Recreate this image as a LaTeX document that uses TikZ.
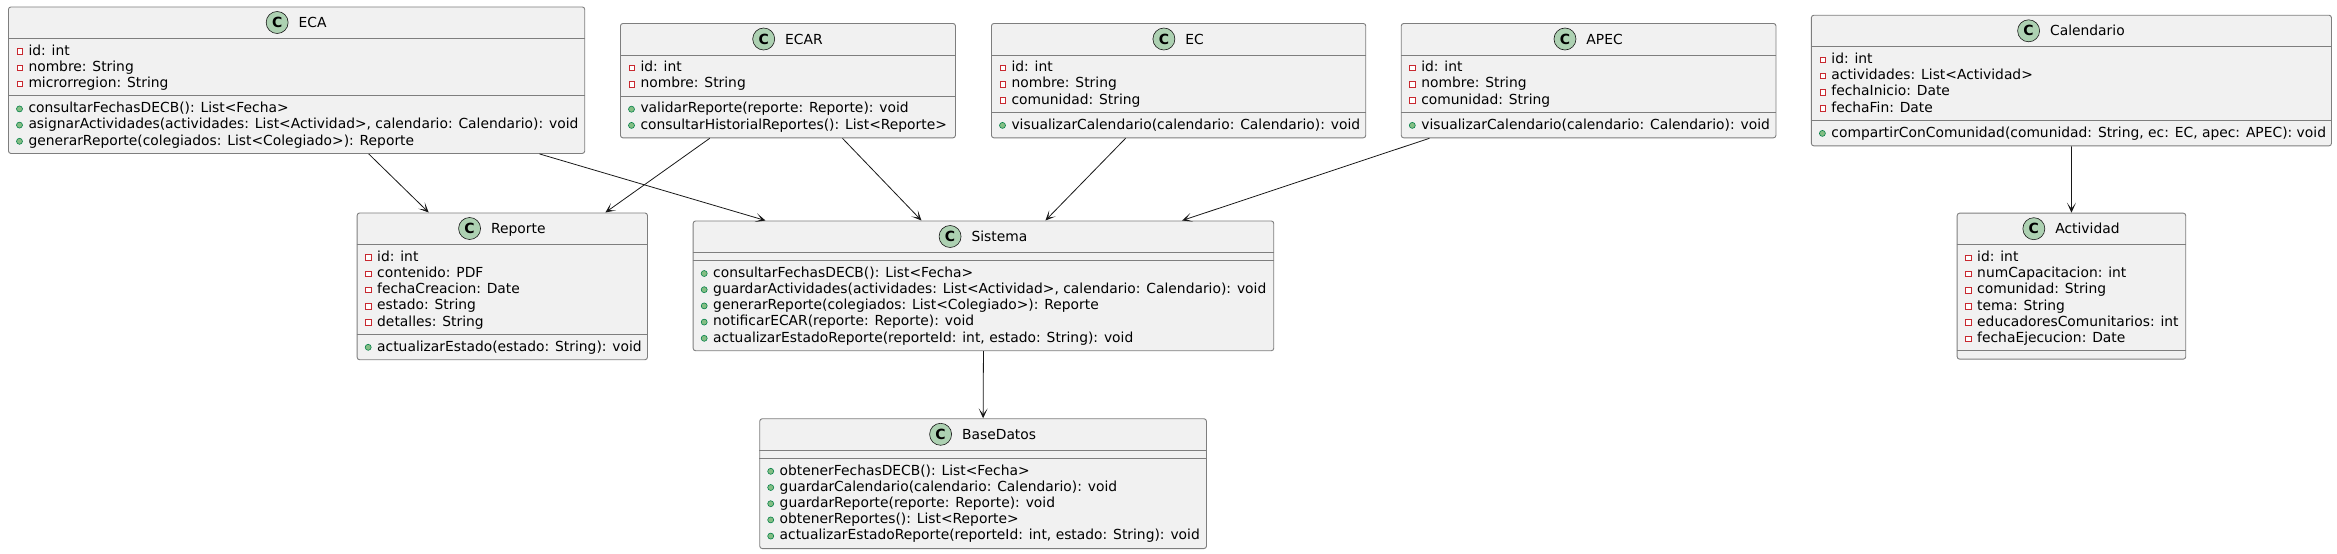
\documentclass[tikz,border=0pt]{standalone}
\usepackage{fontspec}
\setmainfont{DejaVu Sans}
\usepackage{xcolor}
\usepackage{tikz}
\usetikzlibrary{arrows.meta}
\usetikzlibrary{positioning}

\definecolor{umlline}{HTML}{181818}
\definecolor{boxline}{HTML}{7E7E7E}
\definecolor{umlfill}{HTML}{F1F1F1}
\definecolor{umlgreen}{HTML}{ADD1B2}
\definecolor{privred}{HTML}{C82930}
\definecolor{pubgreen}{HTML}{84BE84}
\definecolor{pubdark}{HTML}{038048}

\begin{document}
\begin{tikzpicture}[
    x=1pt, y=-1pt,
    every node/.style={font=\fontsize{13.85}{16}\selectfont},
    box/.style={draw=boxline, fill=umlfill, line width=0.9pt, rounded corners=2.5pt, anchor=north west, inner sep=0pt},
    sep/.style={draw=boxline, line width=0.9pt},
    cicon/.style={circle, draw=umlline, fill=umlgreen, line width=0.6pt, minimum size=22pt, inner sep=0pt, font=\fontsize{14}{16}\selectfont\bfseries},
    cname/.style={inner sep=0pt, text height=10.2pt, text depth=0pt},
    privicon/.style={rectangle, draw=privred, fill=white, line width=0.7pt, minimum size=5.5pt, inner sep=0pt},
    pubicon/.style={circle, draw=pubdark, fill=pubgreen, line width=0.6pt, minimum size=6pt, inner sep=0pt},
    priv/.style={anchor=west, inner sep=0pt, text height=10.5pt, text depth=3pt, label={[privicon]left:{}}},
    pub/.style={anchor=west, inner sep=0pt, text height=10.5pt, text depth=3pt, label={[pubicon]left:{}}},
    label distance=5.5pt,
    assoc/.style={draw=umlline, line width=0.8pt, -{Stealth[length=10pt, width=9pt, inset=6pt]}},
  ]
  \useasboundingbox (0,0) rectangle (2337,554);

  % ECA
  \node[box, minimum width=576.3pt, minimum height=146.5pt] (eca) at (8,6.5) {};
  \draw[sep] ([yshift=-32pt]eca.north west) -- ([yshift=-32pt]eca.north east);
  \draw[sep] ([yshift=-89.4pt]eca.north west) -- ([yshift=-89.4pt]eca.north east);
  \node[cname] (ecaN) at ([xshift=16pt, yshift=-16pt]eca.north) {ECA};
  \node[cicon, left=10pt of ecaN] (ecaC) {C};
  \foreach \txt [count=\i from 0] in {{id: int}, {nombre: String}, {microrregion: String}}
    \node[priv] (eca-a\i) at (28.3, {6.5+45+16.2*\i}) {\txt};
  \foreach \txt [count=\i from 0] in {{consultarFechasDECB(): List<Fecha>},
      {asignarActividades(actividades: List<Actividad>, calendario: Calendario): void},
      {generarReporte(colegiados: List<Colegiado>): Reporte}}
    \node[pub] (eca-m\i) at (28.3, {6.5+102.4+16.2*\i}) {\txt};

  % ECAR
  \node[box, minimum width=335pt, minimum height=114.4pt] (ecar) at (620,23) {};
  \draw[sep] ([yshift=-32pt]ecar.north west) -- ([yshift=-32pt]ecar.north east);
  \draw[sep] ([yshift=-73.2pt]ecar.north west) -- ([yshift=-73.2pt]ecar.north east);
  \node[cname] (ecarN) at ([xshift=16pt, yshift=-16pt]ecar.north) {ECAR};
  \node[cicon, left=10pt of ecarN] (ecarC) {C};
  \foreach \txt [count=\i from 0] in {{id: int}, {nombre: String}}
    \node[priv] (ecar-a\i) at (640.3, {23+45+16.2*\i}) {\txt};
  \foreach \txt [count=\i from 0] in {{validarReporte(reporte: Reporte): void},
      {consultarHistorialReportes(): List<Reporte>}}
    \node[pub] (ecar-m\i) at (640.3, {23+86.2+16.2*\i}) {\txt};

  % EC
  \node[box, minimum width=374.3pt, minimum height=114.4pt] (ec) at (991,23) {};
  \draw[sep] ([yshift=-32pt]ec.north west) -- ([yshift=-32pt]ec.north east);
  \draw[sep] ([yshift=-89.4pt]ec.north west) -- ([yshift=-89.4pt]ec.north east);
  \node[cname] (ecN) at ([xshift=16pt, yshift=-16pt]ec.north) {EC};
  \node[cicon, left=10pt of ecN] (ecC) {C};
  \foreach \txt [count=\i from 0] in {{id: int}, {nombre: String}, {comunidad: String}}
    \node[priv] (ec-a\i) at (1011.3, {23+45+16.2*\i}) {\txt};
  \node[pub] (ec-m0) at (1011.3, 23+102.4) {visualizarCalendario(calendario: Calendario): void};

  % APEC
  \node[box, minimum width=374.7pt, minimum height=114.4pt] (apec) at (1400.8,23) {};
  \draw[sep] ([yshift=-32pt]apec.north west) -- ([yshift=-32pt]apec.north east);
  \draw[sep] ([yshift=-89.4pt]apec.north west) -- ([yshift=-89.4pt]apec.north east);
  \node[cname] (apecN) at ([xshift=16pt, yshift=-16pt]apec.north) {APEC};
  \node[cicon, left=10pt of apecN] (apecC) {C};
  \foreach \txt [count=\i from 0] in {{id: int}, {nombre: String}, {comunidad: String}}
    \node[priv] (apec-a\i) at (1421.1, {23+45+16.2*\i}) {\txt};
  \node[pub] (apec-m0) at (1421.1, 23+102.4) {visualizarCalendario(calendario: Calendario): void};

  % Calendario
  \node[box, minimum width=520.1pt, minimum height=130.6pt] (cal) at (1810.9,14.8) {};
  \draw[sep] ([yshift=-32pt]cal.north west) -- ([yshift=-32pt]cal.north east);
  \draw[sep] ([yshift=-105.6pt]cal.north west) -- ([yshift=-105.6pt]cal.north east);
  \node[cname] (calN) at ([xshift=16pt, yshift=-16pt]cal.north) {Calendario};
  \node[cicon, left=10pt of calN] (calC) {C};
  \foreach \txt [count=\i from 0] in {{id: int}, {actividades: List<Actividad>}, {fechaInicio: Date}, {fechaFin: Date}}
    \node[priv] (cal-a\i) at (1831.2, {14.8+45+16.2*\i}) {\txt};
  \node[pub] (cal-m0) at (1831.2, 14.8+118.6) {compartirConComunidad(comunidad: String, ec: EC, apec: APEC): void};

  % Reporte
  \node[box, minimum width=290.3pt, minimum height=146.8pt] (rep) at (356.7,212.5) {};
  \draw[sep] ([yshift=-32pt]rep.north west) -- ([yshift=-32pt]rep.north east);
  \draw[sep] ([yshift=-121.8pt]rep.north west) -- ([yshift=-121.8pt]rep.north east);
  \node[cname] (repN) at ([xshift=16pt, yshift=-16pt]rep.north) {Reporte};
  \node[cicon, left=10pt of repN] (repC) {C};
  \foreach \txt [count=\i from 0] in {{id: int}, {contenido: PDF}, {fechaCreacion: Date}, {estado: String}, {detalles: String}}
    \node[priv] (rep-a\i) at (377, {212.5+45+16.2*\i}) {\txt};
  \node[pub] (rep-m0) at (377, 212.5+134.8) {actualizarEstado(estado: String): void};

  % Sistema
  \node[box, minimum width=580.6pt, minimum height=129.8pt] (sis) at (692.7,220.5) {};
  \draw[sep] ([yshift=-32pt]sis.north west) -- ([yshift=-32pt]sis.north east);
  \draw[sep] ([yshift=-40pt]sis.north west) -- ([yshift=-40pt]sis.north east);
  \node[cname] (sisN) at ([xshift=16pt, yshift=-16pt]sis.north) {Sistema};
  \node[cicon, left=10pt of sisN] (sisC) {C};
  \foreach \txt [count=\i from 0] in {{consultarFechasDECB(): List<Fecha>},
      {guardarActividades(actividades: List<Actividad>, calendario: Calendario): void},
      {generarReporte(colegiados: List<Colegiado>): Reporte},
      {notificarECAR(reporte: Reporte): void},
      {actualizarEstadoReporte(reporteId: int, estado: String): void}}
    \node[pub] (sis-m\i) at (713, {220.5+53+16.2*\i}) {\txt};

  % BaseDatos
  \node[box, minimum width=446.7pt, minimum height=129.8pt] (bd) at (759.3,418.3) {};
  \draw[sep] ([yshift=-32pt]bd.north west) -- ([yshift=-32pt]bd.north east);
  \draw[sep] ([yshift=-40pt]bd.north west) -- ([yshift=-40pt]bd.north east);
  \node[cname] (bdN) at ([xshift=16pt, yshift=-16pt]bd.north) {BaseDatos};
  \node[cicon, left=10pt of bdN] (bdC) {C};
  \foreach \txt [count=\i from 0] in {{obtenerFechasDECB(): List<Fecha>},
      {guardarCalendario(calendario: Calendario): void},
      {guardarReporte(reporte: Reporte): void},
      {obtenerReportes(): List<Reporte>},
      {actualizarEstadoReporte(reporteId: int, estado: String): void}}
    \node[pub] (bd-m\i) at (779.5, {418.3+53+16.2*\i}) {\txt};

  % Actividad
  \node[box, minimum width=228.6pt, minimum height=146pt] (act) at (1956.7,212.7) {};
  \draw[sep] ([yshift=-32pt]act.north west) -- ([yshift=-32pt]act.north east);
  \draw[sep] ([yshift=-138pt]act.north west) -- ([yshift=-138pt]act.north east);
  \node[cname] (actN) at ([xshift=16pt, yshift=-16pt]act.north) {Actividad};
  \node[cicon, left=10pt of actN] (actC) {C};
  \foreach \txt [count=\i from 0] in {{id: int}, {numCapacitacion: int}, {comunidad: String}, {tema: String},
      {educadoresComunitarios: int}, {fechaEjecucion: Date}}
    \node[priv] (act-a\i) at (1977, {212.7+45+16.2*\i}) {\txt};

  % connectors
  \draw[assoc] ([xshift=72.1pt]eca.south) -- ([xshift=-73.6pt]rep.north);
  \draw[assoc] ([xshift=242.8pt]eca.south) -- ([xshift=-218pt]sis.north);
  \draw[assoc] ([xshift=-78.2pt]ecar.south) -- ([xshift=103.1pt]rep.north);
  \draw[assoc] ([xshift=54.5pt]ecar.south) -- ([xshift=-62pt]sis.north);
  \draw[assoc] ([xshift=-53pt]ec.south) -- ([xshift=62pt]sis.north);
  \draw[assoc] ([xshift=-159.2pt]apec.south) -- ([xshift=198.7pt]sis.north);
  \draw[assoc] (sis.south) -- (bd.north);
  \draw[assoc] (cal.south) -- (act.north);

  \end{tikzpicture}
\end{document}
